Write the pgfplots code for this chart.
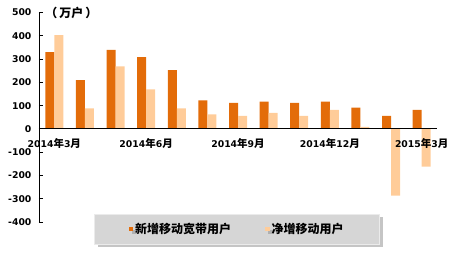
\documentclass[border=0pt]{standalone}
\usepackage{pgfplots}
\pgfplotsset{compat=1.18}
\usepackage{fontspec}
\usetikzlibrary{shadows,calc}
\setmainfont{DejaVu Sans}
\newfontfamily\cjk{Noto Sans CJK SC}
\definecolor{darkor}{HTML}{E36C09}
\definecolor{lightor}{HTML}{FFCC99}
\newcommand{\ym}[2]{#1{\cjk\bfseries\fontsize{10.5}{11}\selectfont 年}#2{\cjk\bfseries\fontsize{10.5}{11}\selectfont 月}}
\begin{document}
\begin{tikzpicture}
\begin{axis}[
  scale only axis, width=398pt, height=209.5pt,
  axis on top,
  ybar=0pt, bar width=9pt,
  xmin=-0.5, xmax=12.5, ymin=-400, ymax=500,
  axis x line=middle, axis y line*=left,
  axis line style={black, line width=0.9pt, -},
  xtick={0,3,6,9,12},
  xticklabels={\ym{2014}{3},\ym{2014}{6},\ym{2014}{9},\ym{2014}{12},\ym{2015}{3}},
  x tick style={draw=none},
  extra x ticks={-0.5,2.5,5.5,8.5,11.5},
  extra x tick labels={},
  extra x tick style={tick style={draw=black, line width=0.8pt}, major tick length=8pt, tick align=inside},
  ytick={-400,-300,...,500},
  y tick style={black, line width=0.8pt}, major tick length=4pt, tick align=inside,
  yticklabel style={font=\bfseries\fontsize{9.3}{10}\selectfont, xshift=-4pt},
  xticklabel style={font=\bfseries\fontsize{9.3}{10}\selectfont, yshift=-6pt},
  /pgf/number format/assume math mode=true,
  /pgf/number format/1000 sep={},
  legend columns=2,
  legend style={at={(rel axis cs:0.4975,-0.034)}, anchor=center,
    fill=black!16, draw=black!8, inner xsep=34pt, inner ysep=7pt,
    drop shadow={shadow xshift=3pt, shadow yshift=-3pt, fill=black!45},
    font=\cjk\bfseries\fontsize{12}{12}\selectfont,
    /tikz/every even column/.append style={column sep=32pt}},
  legend image code/.code={\fill[#1] (1pt,-2pt) rectangle (5.5pt,2.5pt);},
  clip=false,
]
\addplot[fill=darkor, draw=none] coordinates {
(0,330) (1,209) (2,339) (3,308) (4,252) (5,122) (6,112) (7,117) (8,112) (9,117) (10,91) (11,56) (12,82)};
\addplot[fill=lightor, draw=none] coordinates {
(0,403) (1,88) (2,269) (3,170) (4,88) (5,62) (6,56) (7,69) (8,56) (9,82) (10,9) (11,-287) (12,-162)};
\legend{新增移动宽带用户,净增移动用户}
\node[anchor=west, font=\cjk\bfseries\fontsize{12}{12}\selectfont, inner sep=0pt] at (axis cs:-0.3,500) {（\,万户\,）};
\coordinate (sw) at (rel axis cs:0,0);
\end{axis}
\pgfresetboundingbox
\path[use as bounding box] ($(sw)+(-39pt,-33pt)$) rectangle ++(452pt,255pt);
\end{tikzpicture}
\end{document}
